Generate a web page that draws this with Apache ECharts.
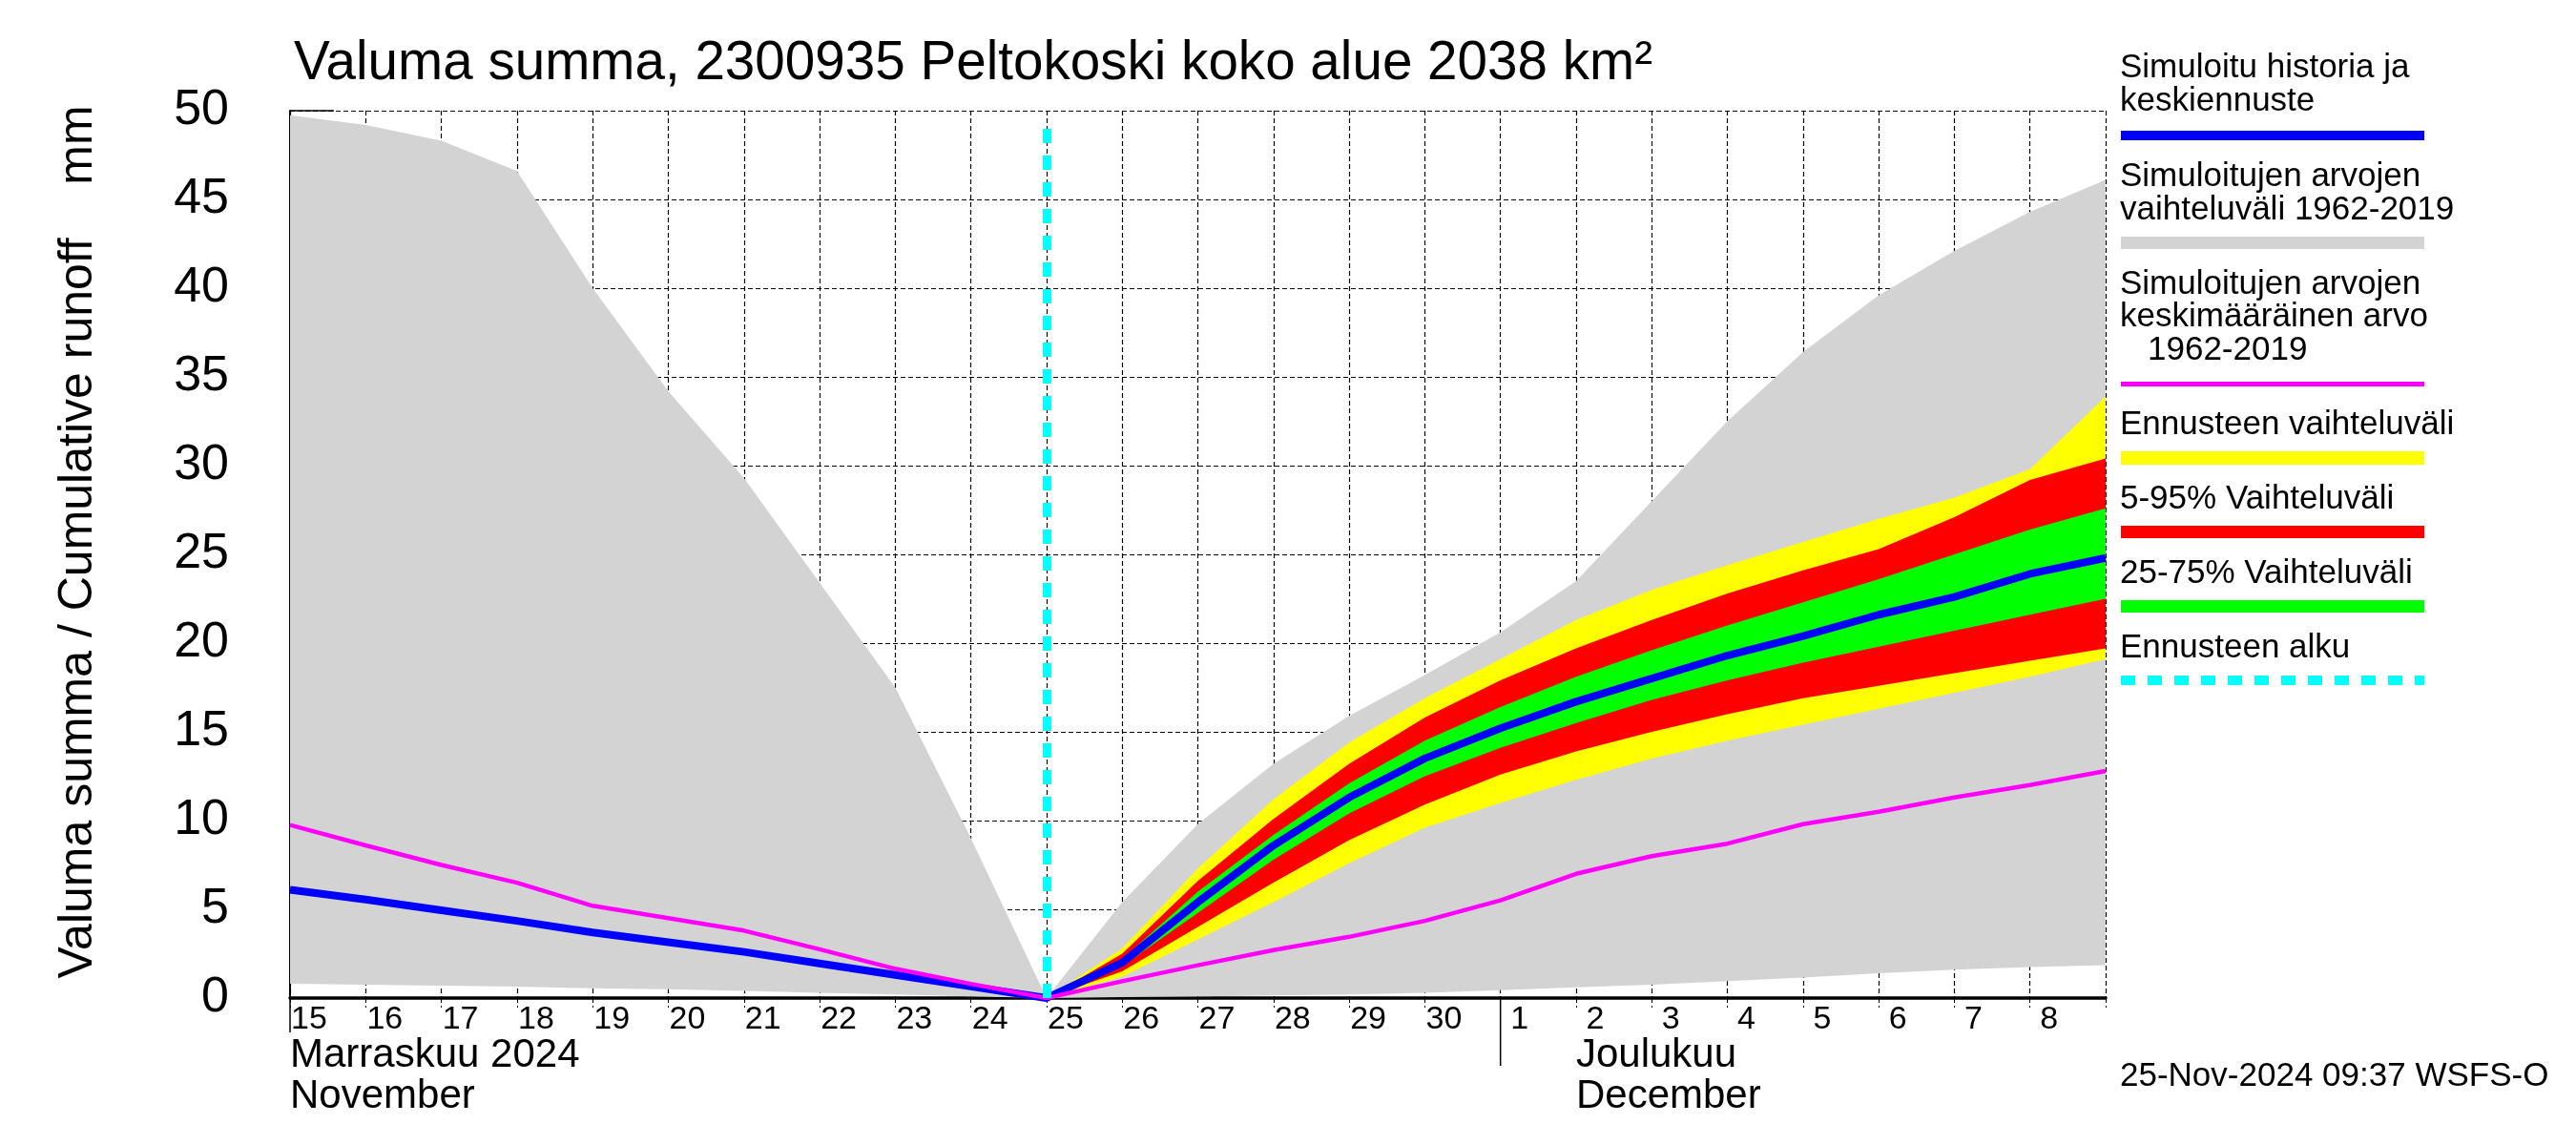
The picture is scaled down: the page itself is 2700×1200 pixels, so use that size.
<!DOCTYPE html>
<html><head><meta charset="utf-8">
<script src="https://cdn.jsdelivr.net/npm/echarts@6/dist/echarts.min.js"></script>
<style>html,body{margin:0;padding:0;background:#fff}#c{width:2700px;height:1200px}</style>
</head><body><div id="c"></div>
<script>
// ---- data (day index 0 = 15 Nov 2024, 10 = 25 Nov forecast start, 24 = 9 Dec) ----
const dayLabels = ['15','16','17','18','19','20','21','22','23','24','25','26','27','28','29','30','1','2','3','4','5','6','7','8',''];
const yTickValues = [0,5,10,15,20,25,30,35,40,45,50];
const forecastStartIndex = 10;

// grey: simulated range 1962-2019
const greyLower = [0.8,0.75,0.7,0.65,0.55,0.5,0.4,0.3,0.2,0.1,0,0.05,0.1,0.15,0.2,0.3,0.45,0.6,0.75,0.95,1.15,1.4,1.6,1.75,1.85];
const greyUpper = [49.75,49.2,48.3,46.6,40.0,34.2,29.3,23.4,17.5,9.0,0,5.4,9.8,13.2,15.9,18.2,20.6,23.5,28.0,32.5,36.4,39.6,42.1,44.3,46.1];
// magenta: simulated mean 1962-2019
const meanSim = [9.75,8.6,7.5,6.5,5.2,4.5,3.8,2.75,1.65,0.8,0,0.95,1.85,2.7,3.45,4.35,5.5,7.0,8.0,8.7,9.8,10.5,11.3,12.0,12.8];
// blue: simulated history + median forecast
const blueLine = [6.1,5.55,4.95,4.35,3.7,3.15,2.6,1.95,1.3,0.65,0,2.0,5.4,8.6,11.3,13.5,15.2,16.7,18.0,19.3,20.4,21.6,22.6,23.9,24.8];
// forecast bands, days 10..24
const yellowLow  = [0,1.2,3.3,5.4,7.6,9.6,11.0,12.3,13.5,14.5,15.4,16.3,17.2,18.1,19.1];
const yellowHigh = [0,2.8,7.3,11.2,14.4,16.9,19.1,21.3,23.0,24.4,25.7,27.0,28.2,29.8,33.9];
const redLow     = [0,1.5,4.0,6.5,8.9,10.9,12.6,13.9,15.0,16.0,16.9,17.6,18.3,19.0,19.7];
const redHigh    = [0,2.5,6.6,10.1,13.2,15.8,17.9,19.7,21.3,22.8,24.1,25.3,27.1,29.2,30.4];
const greenLow   = [0,1.8,4.8,7.8,10.4,12.5,14.1,15.5,16.8,17.9,18.9,19.8,20.7,21.6,22.5];
const greenHigh  = [0,2.2,6.0,9.2,12.1,14.5,16.4,18.1,19.6,21.0,22.3,23.6,25.0,26.4,27.6];

const FONT = '"Liberation Sans", Arial, Helvetica, sans-serif';
const pad = a => new Array(forecastStartIndex).fill(null).concat(a);

function band(id, low, high, color) {
  return [
    { type:'line', stack:id, data:low, symbol:'none', silent:true, lineStyle:{opacity:0}, animation:false },
    { type:'line', stack:id, data:high.map((v,i)=> v==null?null: v-low[i]), symbol:'none', silent:true,
      lineStyle:{opacity:0}, areaStyle:{color:color, opacity:1}, animation:false }
  ];
}

const chart = echarts.init(document.getElementById('c'), null, {renderer:'canvas'});
const series = [].concat(
  band('grey', greyLower, greyUpper, '#d3d3d3'),
  band('yellow', pad(yellowLow), pad(yellowHigh), '#ffff00'),
  band('red', pad(redLow), pad(redHigh), '#ff0000'),
  band('green', pad(greenLow), pad(greenHigh), '#00ff00'),
  [{ type:'line', data: dayLabels.map(()=>null), symbol:'none', silent:true,
     markLine:{ symbol:'none', silent:true, label:{show:false}, animation:false,
       lineStyle:{color:'#00ffff', width:9, type:[15,13], opacity:1},
       data:[[{xAxis: forecastStartIndex, yAxis: 0}, {xAxis: forecastStartIndex, yAxis: 49}]] } },
   { type:'line', data: blueLine, symbol:'none', lineStyle:{color:'#0000ff', width:8}, animation:false },
   { type:'line', data: meanSim, symbol:'none', lineStyle:{color:'#ff00ff', width:4.5}, animation:false }]
);

chart.setOption({
  animation:false,
  backgroundColor:'#fff',
  grid:{left:304, top:116, width:1903, height:930, containLabel:false},
  xAxis:{ type:'category', data: dayLabels, boundaryGap:false,
    axisLine:{show:true, onZero:false, lineStyle:{color:'#000', width:3.5}},
    axisTick:{show:true, interval:0, length:10, lineStyle:{color:'#000', width:1, type:[5,3]}},
    axisLabel:{show:true, interval:0, color:'#000', fontSize:34, fontFamily:FONT, margin:6,
      align:'center', padding:[0,0,0,40]},
    splitLine:{show:true, interval:0, lineStyle:{color:'#000', width:1.2, type:[5,3]}} },
  yAxis:{ type:'value', min:yTickValues[0], max:yTickValues[yTickValues.length-1], interval:5,
    axisLine:{show:true, lineStyle:{color:'#000', width:2}},
    axisTick:{show:true, inside:true, length:46, lineStyle:{color:'#000', width:1.5}},
    axisLabel:{color:'#000', fontSize:52, fontFamily:FONT, margin:64, padding:[0,0,19,0]},
    splitLine:{show:true, lineStyle:{color:'#000', width:1.2, type:[5,3]}} },
  series: series
});

// ---- decorations positioned from the axes ----
function T(x, baseline, s, fs, extra) {
  return Object.assign({ type:'text', x:x, y: baseline - 0.3465*fs, silent:true,
    style:{ text:s, fontSize:fs, fontFamily:FONT, fill:'#000', align:'left', verticalAlign:'middle' } }, extra||{});
}
const px = i => chart.convertToPixel({xAxisIndex:0}, i);
const py = v => chart.convertToPixel({yAxisIndex:0}, v);
const x0 = px(0), xDec1 = px(16), xDec2 = px(17), yBase = py(0);
const LX = 2223, LW = 318;
const g = [
  T(308, 87, 'Valuma summa, 2300935 Peltokoski koko alue 2038 km²', 56.6),
  { type:'text', x:82, y:568, rotation:Math.PI/2, silent:true,
    style:{ text:'Valuma summa / Cumulative runoff    mm', fontSize:50, fontFamily:FONT, fill:'#000', align:'center', verticalAlign:'middle' } },
  { type:'line', silent:true, shape:{x1:x0, y1:yBase, x2:x0, y2:yBase+36}, style:{stroke:'#000', lineWidth:1.5} },
  { type:'line', silent:true, shape:{x1:xDec1, y1:yBase, x2:xDec1, y2:yBase+71}, style:{stroke:'#000', lineWidth:1.5} },
  T(x0, 1121, 'Marraskuu 2024', 42),
  T(x0, 1164, 'November', 42),
  T(xDec2, 1121, 'Joulukuu', 42),
  T(xDec2, 1164, 'December', 42),
  T(2222, 1140, '25-Nov-2024 09:37 WSFS-O', 35),
  // legend
  T(2222, 83, 'Simuloitu historia ja', 35),
  T(2222, 118, 'keskiennuste', 35),
  { type:'rect', silent:true, shape:{x:LX, y:137, width:LW, height:10}, style:{fill:'#0000ff'} },
  T(2222, 197, 'Simuloitujen arvojen', 35),
  T(2222, 232, 'vaihteluväli 1962-2019', 35),
  { type:'rect', silent:true, shape:{x:LX, y:248, width:LW, height:13}, style:{fill:'#d3d3d3'} },
  T(2222, 310, 'Simuloitujen arvojen', 35),
  T(2222, 344, 'keskimääräinen arvo', 35),
  T(2251, 379, '1962-2019', 35),
  { type:'rect', silent:true, shape:{x:LX, y:400, width:LW, height:5}, style:{fill:'#ff00ff'} },
  T(2222, 457, 'Ennusteen vaihteluväli', 35),
  { type:'rect', silent:true, shape:{x:LX, y:473, width:LW, height:14}, style:{fill:'#ffff00'} },
  T(2222, 535, '5-95% Vaihteluväli', 35),
  { type:'rect', silent:true, shape:{x:LX, y:551, width:LW, height:13}, style:{fill:'#ff0000'} },
  T(2222, 613, '25-75% Vaihteluväli', 35),
  { type:'rect', silent:true, shape:{x:LX, y:629, width:LW, height:13}, style:{fill:'#00ff00'} },
  T(2222, 691, 'Ennusteen alku', 35),
  { type:'line', silent:true, shape:{x1:LX, y1:713, x2:LX+LW, y2:713}, style:{stroke:'#00ffff', lineWidth:10, lineDash:[15,13]} }
];
chart.setOption({ graphic: g });
</script></body></html>
